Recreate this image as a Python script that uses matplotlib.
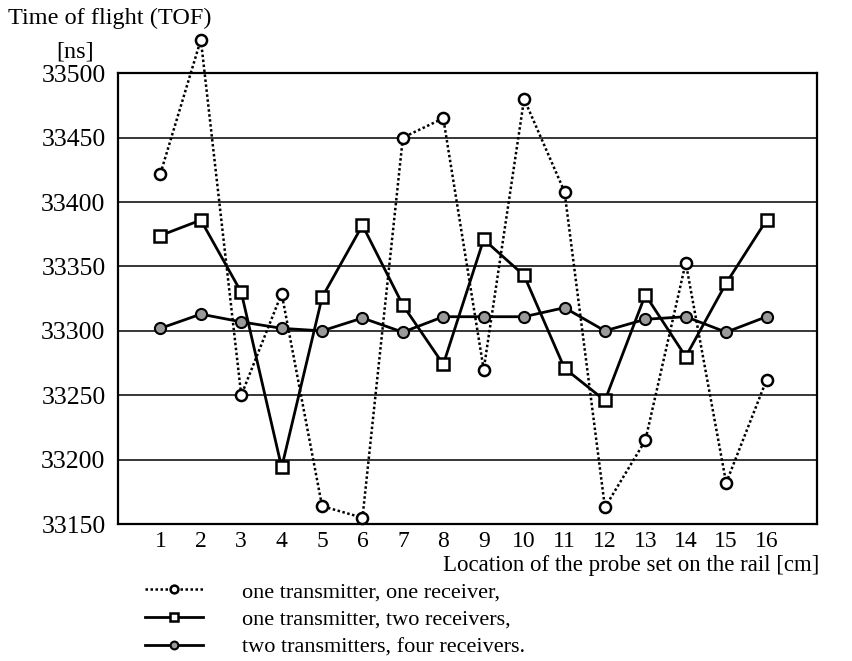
import numpy as np
import matplotlib.pyplot as plt
from matplotlib.ticker import FixedLocator

plt.rcParams['font.family'] = ['Liberation Serif', 'DejaVu Serif']

# probe positions along the rail [cm]
location = np.arange(1, 17)

# time of flight readings [ns]
tof_one_one = [33422, 33526, 33250, 33329, 33164, 33155, 33450, 33465,
               33270, 33480, 33408, 33163, 33215, 33353, 33182, 33262]
tof_one_two = [33374, 33386, 33330, 33194, 33326, 33382, 33320, 33274,
               33371, 33343, 33271, 33246, 33328, 33280, 33337, 33386]
tof_two_four = [33302, 33313, 33307, 33302, 33300, 33310, 33299, 33311,
                33311, 33311, 33318, 33300, 33309, 33311, 33299, 33311]

labels = ['one transmitter, one receiver,',
          'one transmitter, two receivers,',
          'two transmitters, four receivers.']

fig = plt.figure(figsize=(8.52, 6.61), dpi=100)
ax = fig.add_axes([0.1385, 0.207, 0.8205, 0.6823])

# dotted series with open circles
l1, = ax.plot(location, tof_one_one, linestyle=(0, (1, 1)), color='black', lw=1.8,
              marker='o', ms=8, mfc='white', mec='black', mew=1.8, clip_on=False, zorder=4)
# solid series with open squares
l2, = ax.plot(location, tof_one_two, '-', color='black', lw=2.0,
              marker='s', ms=8.5, mfc='white', mec='black', mew=1.8, clip_on=False, zorder=3)
# solid series with grey filled circles
l3, = ax.plot(location, tof_two_four, '-', color='black', lw=2.0,
              marker='o', ms=8, mfc='#9a9a9a', mec='black', mew=1.5, clip_on=False, zorder=5)

ax.set_xlim(-0.05, 17.25)
ax.set_ylim(33150, 33500)
ax.set_xticks(location)
ax.set_yticks(np.arange(33150, 33501, 50))
ax.xaxis.set_minor_locator(FixedLocator(np.arange(2, 17, 2)))
ax.grid(True, axis='y', which='major', color='black', lw=1.1)
ax.grid(True, axis='x', which='minor', color='black', lw=1.1)
ax.set_axisbelow(True)
ax.tick_params(axis='both', which='both', length=0)
ax.tick_params(axis='y', pad=9, labelsize=18.5)
ax.tick_params(axis='x', pad=5, labelsize=17)
for s in ax.spines.values():
    s.set_linewidth(1.6)

fig.text(0.009, 0.972, 'Time of flight (TOF)', fontsize=17.5, ha='left', va='center')
fig.text(0.088, 0.922, '[ns]', fontsize=17.5, ha='center', va='center')
fig.text(0.962, 0.145, 'Location of the probe set on the rail [cm]',
         fontsize=16.5, ha='right', va='center')

fig.legend([l1, l2, l3], labels, loc='upper left', bbox_to_anchor=(0.157, 0.137),
           frameon=False, fontsize=16, handlelength=2.6, handletextpad=1.75,
           labelspacing=0.33, borderpad=0, markerscale=0.7)

fig.savefig('out.png', dpi=100)
